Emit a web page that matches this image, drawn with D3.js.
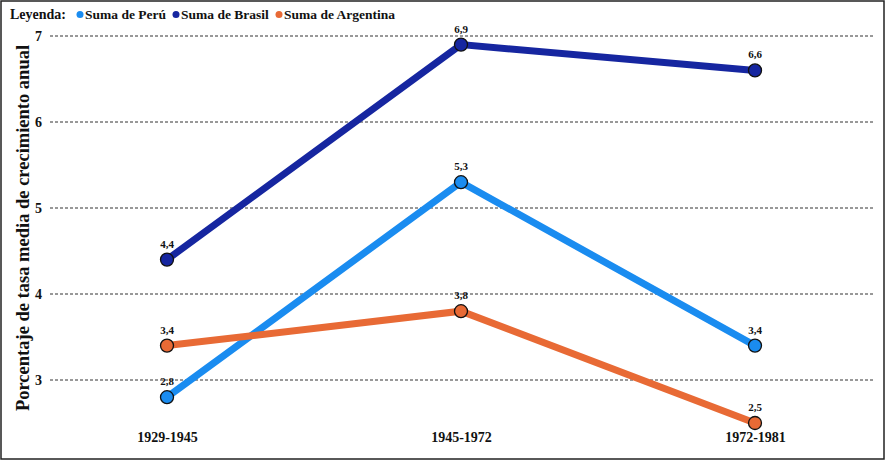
<!DOCTYPE html>
<html>
<head>
<meta charset="utf-8">
<script src="https://cdn.jsdelivr.net/npm/d3@7"></script>
<style>
  body { margin: 0; background: #fff; }
  svg { display: block; }
  text { font-family: "Liberation Serif", "Times New Roman", serif; font-weight: bold; fill: #111; }
</style>
</head>
<body>
<svg id="chart"></svg>
<script>
// periods and yearly growth (%) per country
var periods = ["1929-1945", "1945-1972", "1972-1981"];
var peru = [2.8, 5.3, 3.4];
var brasil = [4.4, 6.9, 6.6];
var argentina = [3.4, 3.8, 2.5];
var yTicks = [3, 4, 5, 6, 7];

var series = [
    {name: "Suma de Perú", values: peru, color: "#1a8cf0"},
    {name: "Suma de Brasil", values: brasil, color: "#1626a0"},
    {name: "Suma de Argentina", values: argentina, color: "#e86a35"}
];

var width = 886, height = 461;

var svg = d3.select("#chart")
    .attr("width", width)
    .attr("height", height);

// outer frame
svg.append("rect")
    .attr("x", 1).attr("y", 1)
    .attr("width", width - 3).attr("height", height - 3)
    .attr("fill", "none")
    .attr("stroke", "#222")
    .attr("stroke-width", 1.5);

var x = d3.scalePoint()
    .domain(periods)
    .range([167, 755]);

var y = d3.scaleLinear()
    .domain([3, 7])
    .range([380, 36]);

// grid lines
svg.append("g")
    .selectAll("line")
    .data(yTicks)
    .join("line")
    .attr("x1", 50).attr("x2", 873)
    .attr("y1", function(d) { return y(d); })
    .attr("y2", function(d) { return y(d); })
    .attr("stroke", "#333")
    .attr("stroke-width", 1)
    .attr("stroke-dasharray", "3,2");

// y axis
var yAxis = svg.append("g")
    .attr("transform", "translate(46,0)")
    .call(d3.axisLeft(y).tickValues(yTicks).tickFormat(d3.format("d")).tickSize(0).tickPadding(4))
    .attr("font-family", null)
    .attr("font-size", null);
yAxis.select(".domain").remove();
yAxis.selectAll("text")
    .style("font-size", "14px")
    .attr("fill", "#111");

// x axis
var xAxis = svg.append("g")
    .attr("transform", "translate(0,432)")
    .call(d3.axisBottom(x).tickSize(0).tickPadding(0))
    .attr("font-family", null)
    .attr("font-size", null);
xAxis.select(".domain").remove();
xAxis.selectAll("text")
    .style("font-size", "14px")
    .attr("fill", "#111");

// y title
svg.append("text")
    .attr("transform", "translate(29,228) rotate(-90)")
    .attr("text-anchor", "middle")
    .style("font-size", "18.5px")
    .text("Porcentaje de tasa media de crecimiento anual");

// lines
var line = d3.line()
    .x(function(d, i) { return x(periods[i]); })
    .y(function(d) { return y(d); });

svg.append("g")
    .selectAll("path")
    .data(series)
    .join("path")
    .attr("d", function(s) { return line(s.values); })
    .attr("fill", "none")
    .attr("stroke", function(s) { return s.color; })
    .attr("stroke-width", 7);

// points and labels
series.forEach(function(s) {
    var g = svg.append("g");
    g.selectAll("circle")
        .data(s.values)
        .join("circle")
        .attr("cx", function(d, i) { return x(periods[i]); })
        .attr("cy", function(d) { return y(d); })
        .attr("r", 6.5)
        .attr("fill", s.color)
        .attr("stroke", "#111")
        .attr("stroke-width", 1.3);
    g.selectAll("text")
        .data(s.values)
        .join("text")
        .attr("x", function(d, i) { return x(periods[i]); })
        .attr("y", function(d) { return y(d) - 12; })
        .attr("text-anchor", "middle")
        .style("font-size", "11px")
        .text(function(d) { return String(d).replace(".", ","); });
});

// legend
var legend = svg.append("g").attr("transform", "translate(10,19)");
legend.append("text")
    .style("font-size", "14px")
    .text("Leyenda:");
var lx = [70, 166, 269];
series.forEach(function(s, i) {
    legend.append("circle")
        .attr("cx", lx[i]).attr("cy", -4.5)
        .attr("r", 3.5)
        .attr("fill", s.color);
    legend.append("text")
        .attr("x", lx[i] + 5)
        .style("font-size", "13.5px")
        .text(s.name);
});
</script>
</body>
</html>
